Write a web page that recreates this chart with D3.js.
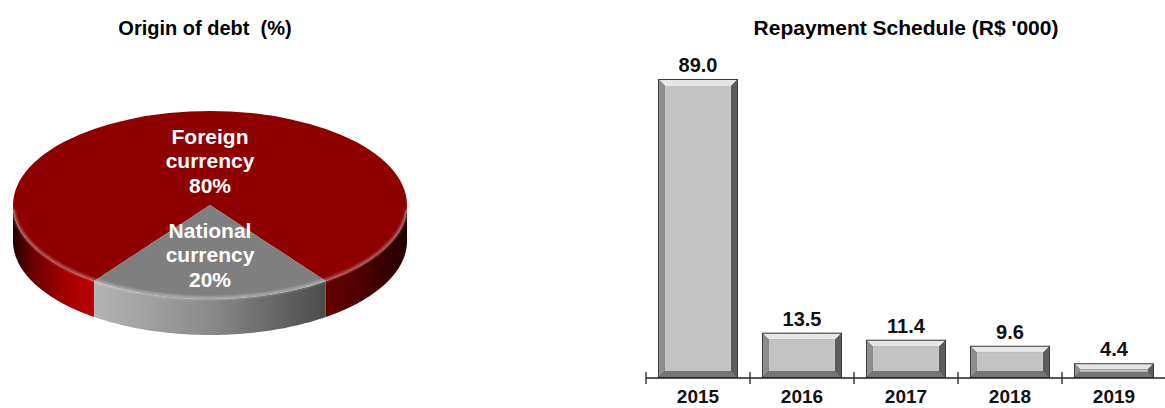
<!DOCTYPE html>
<head>
  <title>Origin of debt / Repayment Schedule</title>
  <meta charset="utf-8">
  <style>
    body { margin: 0; background: #fff; }
    svg text { font-family: "Liberation Sans", Arial, sans-serif; font-weight: bold; }
  </style>
</head>

<body>
  <script type="text/javascript" src="https://cdn.jsdelivr.net/npm/d3@7"></script>

  <script>
    // data
    var pieNames = [["Foreign", "currency"], ["National", "currency"]];
    var pieValues = [80, 20];
    var years = ["2015", "2016", "2017", "2018", "2019"];
    var repayments = [89.0, 13.5, 11.4, 9.6, 4.4];

    var W = 1165, H = 408;

    let svg = d3.select("body")
      .append("svg")
      .attr("width", W)
      .attr("height", H);

    let defs = svg.append("defs");

    function linGrad(id, x1, x2, stops) {
      let g = defs.append("linearGradient")
        .attr("id", id)
        .attr("gradientUnits", "userSpaceOnUse")
        .attr("x1", x1).attr("y1", 0)
        .attr("x2", x2).attr("y2", 0);
      stops.forEach(function (s) {
        g.append("stop").attr("offset", s[0]).attr("stop-color", s[1]);
      });
    }

    // ---------- left: 3D pie ----------
    let cx = 210, cy = 205, rx = 197, ry = 94, depth = 36;

    linGrad("redWall", cx - rx, cx + rx, [
      [0, "#220000"], [0.05, "#6a0000"], [0.14, "#a80000"], [0.23, "#c20000"],
      [0.78, "#6a0000"], [0.9, "#480000"], [1, "#220000"]]);
    linGrad("greyWall", cx - rx, cx + rx, [
      [0.22, "#b2b2b2"], [0.5, "#8a8a8a"], [0.8, "#4a4a4a"]]);

    defs.append("filter").attr("id", "soft")
      .append("feGaussianBlur").attr("stdDeviation", 1.2);

    let pieColors = { top: ["#8e0000", "#7f7f7f"], wall: ["url(#redWall)", "url(#greyWall)"] };

    let a0 = 216 * Math.PI / 180;
    let pie = d3.pie().sort(null).startAngle(a0).endAngle(a0 + 2 * Math.PI);
    let slices = pie(pieValues);

    function pt(a, dz) {
      return [cx + rx * Math.sin(a), cy - ry * Math.cos(a) + dz];
    }

    // parts of [s,e] lying on the front half of the pie
    function frontParts(s, e) {
      let parts = [];
      for (let k = -1; k <= 2; k++) {
        let lo = Math.max(s, Math.PI / 2 + 2 * Math.PI * k);
        let hi = Math.min(e, 3 * Math.PI / 2 + 2 * Math.PI * k);
        if (hi > lo) parts.push([lo, hi]);
      }
      return parts;
    }

    let line = d3.line();
    let pieG = svg.append("g").attr("id", "pie");

    // side walls
    slices.forEach(function (d, i) {
      frontParts(d.startAngle, d.endAngle).forEach(function (p) {
        let n = 60, pts = [];
        for (let j = 0; j <= n; j++) pts.push(pt(p[0] + (p[1] - p[0]) * j / n, 0));
        for (let j = n; j >= 0; j--) pts.push(pt(p[0] + (p[1] - p[0]) * j / n, depth));
        pieG.append("path")
          .attr("d", line(pts) + "Z")
          .attr("fill", pieColors.wall[i]);
      });
    });

    // top faces
    let arc = d3.arc().innerRadius(0).outerRadius(rx);
    pieG.append("g")
      .attr("transform", "translate(" + cx + "," + cy + ") scale(1," + (ry / rx) + ")")
      .selectAll("path")
      .data(slices)
      .enter()
      .append("path")
      .attr("d", arc)
      .attr("fill", function (d, i) { return pieColors.top[i]; });

    // rim highlight along the front edge
    let rim = [];
    for (let j = 0; j <= 80; j++) rim.push(pt(Math.PI * 0.52 + Math.PI * 0.96 * j / 80, -1));
    pieG.append("path")
      .attr("d", line(rim))
      .attr("fill", "none")
      .attr("stroke", "#ffffff")
      .attr("stroke-opacity", 0.35)
      .attr("stroke-width", 3)
      .attr("filter", "url(#soft)");

    // labels
    let labelArc = d3.arc().innerRadius(rx * 0.5).outerRadius(rx * 0.5);
    slices.forEach(function (d, i) {
      let c = labelArc.centroid(d);
      let lx = cx + c[0], ly = cy + 3 + c[1] * ry / rx;
      let lines = pieNames[i].concat([pieValues[i] + "%"]);
      let t = pieG.append("text")
        .attr("text-anchor", "middle")
        .attr("fill", "#ffffff")
        .style("font-size", "21px");
      lines.forEach(function (s, k) {
        t.append("tspan")
          .attr("x", lx)
          .attr("y", ly + 7 + (k - 1) * 24.5)
          .text(s);
      });
    });

    svg.append("text")
      .attr("x", 205)
      .attr("y", 35)
      .attr("text-anchor", "middle")
      .style("font-size", "20px")
      .style("white-space", "pre")
      .text("Origin of debt  (%)");

    // ---------- right: bar chart ----------
    let xScale = d3.scaleBand()
      .domain(years)
      .range([646, 1166])
      .paddingInner(0.23)
      .paddingOuter(0.115);
    let yScale = d3.scaleLinear().domain([0, 100]).range([378, 42]);

    let barG = svg.append("g").attr("id", "bars");

    repayments.forEach(function (v, i) {
      let x0 = xScale(years[i]), x1 = x0 + xScale.bandwidth();
      let y0 = yScale(v), y1 = yScale(0);
      let b = Math.min(6, (y1 - y0 - 2) * 0.4);
      let g = barG.append("g");
      g.append("rect")
        .attr("x", x0).attr("y", y0)
        .attr("width", x1 - x0).attr("height", y1 - y0)
        .attr("fill", "#3c3c3c");
      let L = x0 + 1, R = x1 - 1, T = y0 + 1, B = y1 - 1;
      let bevels = [
        [[L, T], [R, T], [R - b, T + b], [L + b, T + b], "#e6e6e6"],
        [[L, T], [L + b, T + b], [L + b, B - b], [L, B], "#8e8e8e"],
        [[R, T], [R, B], [R - b, B - b], [R - b, T + b], "#5c5c5c"],
        [[L, B], [L + b, B - b], [R - b, B - b], [R, B], "#767676"]
      ];
      bevels.forEach(function (p) {
        g.append("path")
          .attr("d", line(p.slice(0, 4)) + "Z")
          .attr("fill", p[4]);
      });
      g.append("rect")
        .attr("x", L + b).attr("y", T + b)
        .attr("width", Math.max(0, R - L - 2 * b))
        .attr("height", Math.max(0, B - T - 2 * b))
        .attr("fill", "#c3c3c3");

      barG.append("text")
        .attr("x", (x0 + x1) / 2)
        .attr("y", y0 - 7)
        .attr("text-anchor", "middle")
        .style("font-size", "20px")
        .attr("fill", "#111")
        .text(d3.format(".1f")(v));

      barG.append("text")
        .attr("x", (x0 + x1) / 2)
        .attr("y", 403)
        .attr("text-anchor", "middle")
        .style("font-size", "19px")
        .attr("fill", "#111")
        .text(years[i]);
    });

    // axis line + ticks between categories
    let axisY = yScale(0);
    barG.append("line")
      .attr("x1", xScale.range()[0]).attr("x2", W)
      .attr("y1", axisY).attr("y2", axisY)
      .attr("stroke", "#222").attr("stroke-width", 1.3);
    d3.range(years.length + 1).forEach(function (i) {
      let tx = xScale.range()[0] + i * xScale.step();
      barG.append("line")
        .attr("x1", tx).attr("x2", tx)
        .attr("y1", axisY - 6).attr("y2", axisY + 6)
        .attr("stroke", "#222").attr("stroke-width", 1.3);
    });

    svg.append("text")
      .attr("x", 906)
      .attr("y", 35)
      .attr("text-anchor", "middle")
      .style("font-size", "21px")
      .text("Repayment Schedule (R$ '000)");
  </script>
</body>
